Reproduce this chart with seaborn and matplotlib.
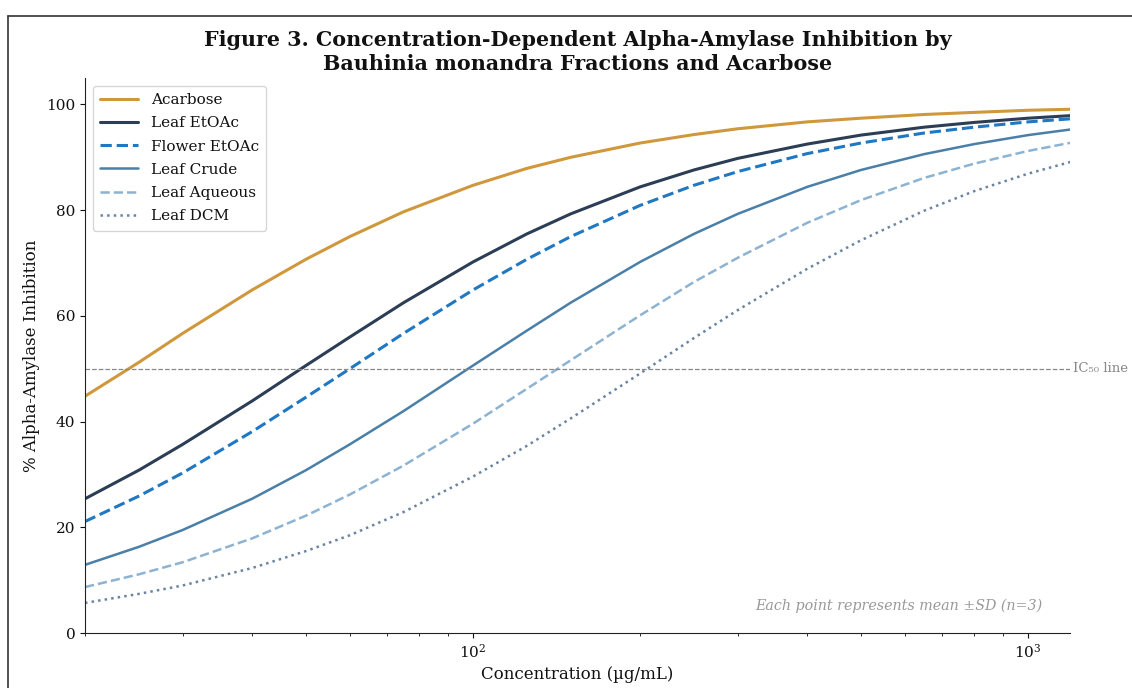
import pandas as pd
import matplotlib.pyplot as plt
import matplotlib.lines as mlines
import seaborn as sns

# concentrations (ug/mL) and % inhibition
conc = [20, 25, 30, 40, 50, 60, 75, 100, 125, 150, 200, 250, 300, 400, 500, 650, 800, 1000, 1200]

acarbose = [44.8, 51.2, 56.7, 64.9, 70.7, 75.0, 79.7, 84.7, 87.9, 90.0, 92.7, 94.3, 95.4, 96.7, 97.4, 98.1, 98.5, 98.9, 99.1]
leaf_etoac = [25.4, 30.8, 35.7, 43.9, 50.6, 56.0, 62.5, 70.2, 75.5, 79.3, 84.4, 87.6, 89.8, 92.5, 94.2, 95.7, 96.6, 97.4, 97.9]
flower_etoac = [21.1, 25.9, 30.3, 38.1, 44.6, 50.0, 56.7, 64.9, 70.7, 75.0, 80.9, 84.7, 87.3, 90.7, 92.7, 94.6, 95.7, 96.7, 97.3]
leaf_crude = [12.9, 16.3, 19.5, 25.4, 30.8, 35.7, 42.0, 50.6, 57.2, 62.5, 70.2, 75.5, 79.3, 84.4, 87.6, 90.6, 92.5, 94.2, 95.3]
leaf_aqueous = [8.7, 11.1, 13.4, 17.9, 22.2, 26.2, 31.7, 39.6, 46.2, 51.6, 60.1, 66.4, 71.0, 77.6, 81.9, 86.1, 88.8, 91.2, 92.8]
leaf_dcm = [5.7, 7.4, 9.0, 12.3, 15.5, 18.5, 22.9, 29.6, 35.4, 40.6, 49.1, 55.8, 61.1, 68.9, 74.3, 79.9, 83.6, 86.9, 89.2]

series = [
    ("Acarbose", acarbose, "#D0983C", "-", 2.2),
    ("Leaf EtOAc", leaf_etoac, "#2C3E55", "-", 2.2),
    ("Flower EtOAc", flower_etoac, "#1F78C1", "--", 2.2),
    ("Leaf Crude", leaf_crude, "#4A7FA8", "-", 1.8),
    ("Leaf Aqueous", leaf_aqueous, "#8DB3D2", "--", 1.8),
    ("Leaf DCM", leaf_dcm, "#6A84A2", ":", 1.8),
]

sns.set_style("ticks")
plt.rcParams['font.family'] = ['DejaVu Serif']
plt.rcParams['text.color'] = '#111111'
plt.rcParams['axes.labelcolor'] = '#111111'
plt.rcParams['xtick.color'] = '#111111'
plt.rcParams['ytick.color'] = '#111111'
plt.rcParams['axes.edgecolor'] = '#222222'

fig = plt.figure(figsize=(11.32, 6.88), dpi=100)
ax = fig.add_axes([0.0751, 0.0799, 0.8701, 0.8067])

# border of the original figure (top and left edges visible)
fig.add_artist(mlines.Line2D([8/1132, 1.0], [1 - 16/688, 1 - 16/688], color="#333333", lw=1.2))
fig.add_artist(mlines.Line2D([8/1132, 8/1132], [0.0, 1 - 16/688], color="#333333", lw=1.2))

for name, vals, color, ls, lw in series:
    df = pd.DataFrame({"conc": conc, "inh": vals})
    sns.lineplot(data=df, x="conc", y="inh", ax=ax, color=color, linestyle=ls,
                 linewidth=lw, label=name)

ax.axhline(50, color="#888888", linestyle="--", linewidth=0.9)
ax.text(1.003, 50, "IC₅₀ line", transform=ax.get_yaxis_transform(), color="#888888",
        fontsize=9.5, va="center", ha="left")

ax.set_xscale("log")
ax.set_xlim(20, 1190)
ax.set_ylim(0, 105)
ax.set_yticks([0, 20, 40, 60, 80, 100])
ax.tick_params(labelsize=11)

ax.set_xlabel("Concentration (µg/mL)", fontsize=12)
ax.set_ylabel("% Alpha-Amylase Inhibition", fontsize=12)
ax.set_title("Figure 3. Concentration-Dependent Alpha-Amylase Inhibition by\n"
             "Bauhinia monandra Fractions and Acarbose",
             fontsize=14.9, fontweight="bold", pad=6)

ax.text(0.972, 0.049, "Each point represents mean ±SD (n=3)", transform=ax.transAxes,
        ha="right", va="center", fontsize=10.3, style="italic", color="#999999")

leg = ax.legend(loc="upper left", fontsize=11, frameon=True, borderpad=0.5,
                handlelength=2.5, labelspacing=0.6)
leg.get_frame().set_edgecolor("#cccccc")

sns.despine(ax=ax)

fig.savefig("out.png", dpi=100)
